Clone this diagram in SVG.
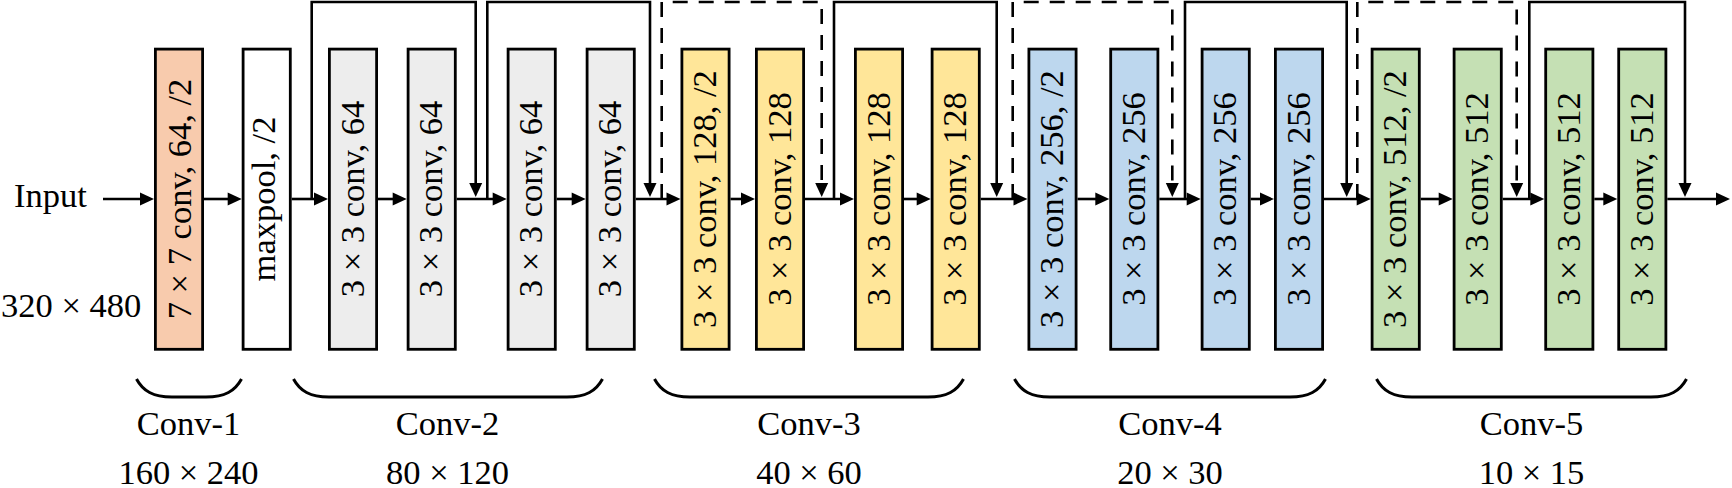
<svg xmlns="http://www.w3.org/2000/svg" width="1732" height="488" viewBox="0 0 1732 488">
<style>
.box{stroke:#000;stroke-width:2.8}
.c1{fill:#F8CBAD}.mp{fill:#FFFFFF}.c2{fill:#EDEDED}.c3{fill:#FFE699}.c4{fill:#BDD7EE}.c5{fill:#C5E0B4}
.t{font-family:"Liberation Serif","Times New Roman",serif;font-size:34.5px;fill:#000}
.m{text-anchor:middle}
.ln{fill:none;stroke:#000;stroke-width:2.6;stroke-linejoin:miter}
.ar{marker-end:url(#ah)}
.dash{stroke-dasharray:15 11}
.br{fill:none;stroke:#000;stroke-width:3}
</style>
<defs>
<marker id="ah" markerUnits="userSpaceOnUse" markerWidth="14" markerHeight="14" refX="4" refY="7" orient="auto" overflow="visible">
<path d="M0,0.5 L14,7 L0,13.5 z" fill="#000" stroke="none"/>
</marker>
</defs>

<g id="connectors">
<path class="ln ar" d="M103,199 H144"/>
<path class="ln ar" d="M204,199 H231.7"/>
<path class="ln ar" d="M291.7,199 H318"/>
<path class="ln ar" d="M378,199 H396.7"/>
<path class="ln ar" d="M456.7,199 H496.7"/>
<path class="ln ar" d="M556.7,199 H575.7"/>
<path class="ln ar" d="M635.7,199 H670.5"/>
<path class="ln ar" d="M730.5,199 H745"/>
<path class="ln ar" d="M805,199 H844"/>
<path class="ln ar" d="M904,199 H920.7"/>
<path class="ln ar" d="M980.7,199 H1017.5"/>
<path class="ln ar" d="M1077.5,199 H1099.3"/>
<path class="ln ar" d="M1159.3,199 H1190.7"/>
<path class="ln ar" d="M1250.7,199 H1264"/>
<path class="ln ar" d="M1324,199 H1360.7"/>
<path class="ln ar" d="M1420.7,199 H1442.7"/>
<path class="ln ar" d="M1502.7,199 H1534.3"/>
<path class="ln ar" d="M1594.3,199 H1607.3"/>
<path class="ln ar" d="M1667.3,199 H1720"/>
<path class="ln ar" d="M311.7,199 V2 H475.7 V187"/>
<path class="ln ar" d="M487.3,199 V2 H650 V187"/>
<path class="ln ar dash" d="M661.7,199 V2 H821.7 V187"/>
<path class="ln ar" d="M834,199 V2 H996.7 V187"/>
<path class="ln ar dash" d="M1012.7,199 V2 H1172.3 V187"/>
<path class="ln ar" d="M1185,199 V2 H1346.7 V187"/>
<path class="ln ar dash" d="M1357.3,199 V2 H1516.7 V187"/>
<path class="ln ar" d="M1529.3,199 V2 H1685 V187"/>
</g>

<g id="input"><text class="t" x="14" y="207">Input</text><text class="t" x="1" y="317">320 × 480</text></g>

<g id="n1"><rect class="box c1" x="155.4" y="49.1" width="47.2" height="300.2"/><text class="t m" transform="translate(190.5,199) rotate(-90)">7 × 7 conv, 64, /2</text></g>
<g id="n2"><rect class="box mp" x="243.1" y="49.1" width="47.2" height="300.2"/><text class="t m" transform="translate(274.7,199) rotate(-90)">maxpool, /2</text></g>
<g id="n3"><rect class="box c2" x="329.4" y="49.1" width="47.2" height="300.2"/><text class="t m" transform="translate(363.5,199) rotate(-90)">3 × 3 conv, 64</text></g>
<g id="n4"><rect class="box c2" x="408.1" y="49.1" width="47.2" height="300.2"/><text class="t m" transform="translate(442.2,199) rotate(-90)">3 × 3 conv, 64</text></g>
<g id="n5"><rect class="box c2" x="508.1" y="49.1" width="47.2" height="300.2"/><text class="t m" transform="translate(542.2,199) rotate(-90)">3 × 3 conv, 64</text></g>
<g id="n6"><rect class="box c2" x="587.1" y="49.1" width="47.2" height="300.2"/><text class="t m" transform="translate(621.2,199) rotate(-90)">3 × 3 conv, 64</text></g>
<g id="n7"><rect class="box c3" x="681.9" y="49.1" width="47.2" height="300.2"/><text class="t m" transform="translate(716,199) rotate(-90)">3 × 3 conv, 128, /2</text></g>
<g id="n8"><rect class="box c3" x="756.4" y="49.1" width="47.2" height="300.2"/><text class="t m" transform="translate(790.5,199) rotate(-90)">3 × 3 conv, 128</text></g>
<g id="n9"><rect class="box c3" x="855.4" y="49.1" width="47.2" height="300.2"/><text class="t m" transform="translate(889.5,199) rotate(-90)">3 × 3 conv, 128</text></g>
<g id="n10"><rect class="box c3" x="932.1" y="49.1" width="47.2" height="300.2"/><text class="t m" transform="translate(966.2,199) rotate(-90)">3 × 3 conv, 128</text></g>
<g id="n11"><rect class="box c4" x="1028.9" y="49.1" width="47.2" height="300.2"/><text class="t m" transform="translate(1063,199) rotate(-90)">3 × 3 conv, 256, /2</text></g>
<g id="n12"><rect class="box c4" x="1110.7" y="49.1" width="47.2" height="300.2"/><text class="t m" transform="translate(1144.8,199) rotate(-90)">3 × 3 conv, 256</text></g>
<g id="n13"><rect class="box c4" x="1202.1" y="49.1" width="47.2" height="300.2"/><text class="t m" transform="translate(1236.2,199) rotate(-90)">3 × 3 conv, 256</text></g>
<g id="n14"><rect class="box c4" x="1275.4" y="49.1" width="47.2" height="300.2"/><text class="t m" transform="translate(1309.5,199) rotate(-90)">3 × 3 conv, 256</text></g>
<g id="n15"><rect class="box c5" x="1372.1" y="49.1" width="47.2" height="300.2"/><text class="t m" transform="translate(1406.2,199) rotate(-90)">3 × 3 conv, 512, /2</text></g>
<g id="n16"><rect class="box c5" x="1454.1" y="49.1" width="47.2" height="300.2"/><text class="t m" transform="translate(1488.2,199) rotate(-90)">3 × 3 conv, 512</text></g>
<g id="n17"><rect class="box c5" x="1545.7" y="49.1" width="47.2" height="300.2"/><text class="t m" transform="translate(1579.8,199) rotate(-90)">3 × 3 conv, 512</text></g>
<g id="n18"><rect class="box c5" x="1618.7" y="49.1" width="47.2" height="300.2"/><text class="t m" transform="translate(1652.8,199) rotate(-90)">3 × 3 conv, 512</text></g>

<g id="g1"><path class="br" d="M136.5,379 C143,391 153,397 172,397 L206,397 C225,397 235,391 241.5,379"/><text class="t m" x="188.5" y="435">Conv-1</text><text class="t m" x="188.5" y="484">160 × 240</text></g>
<g id="g2"><path class="br" d="M293.5,379 C300,391 310,397 329,397 L567,397 C586,397 596,391 602.5,379"/><text class="t m" x="447.5" y="435">Conv-2</text><text class="t m" x="447.5" y="484">80 × 120</text></g>
<g id="g3"><path class="br" d="M654.5,379 C661,391 671,397 690,397 L928,397 C947,397 957,391 963.5,379"/><text class="t m" x="809" y="435">Conv-3</text><text class="t m" x="809" y="484">40 × 60</text></g>
<g id="g4"><path class="br" d="M1014.5,379 C1021,391 1031,397 1050,397 L1290,397 C1309,397 1319,391 1325.5,379"/><text class="t m" x="1170" y="435">Conv-4</text><text class="t m" x="1170" y="484">20 × 30</text></g>
<g id="g5"><path class="br" d="M1376.5,379 C1383,391 1393,397 1412,397 L1651,397 C1670,397 1680,391 1686.5,379"/><text class="t m" x="1531.5" y="435">Conv-5</text><text class="t m" x="1531.5" y="484">10 × 15</text></g>
</svg>
